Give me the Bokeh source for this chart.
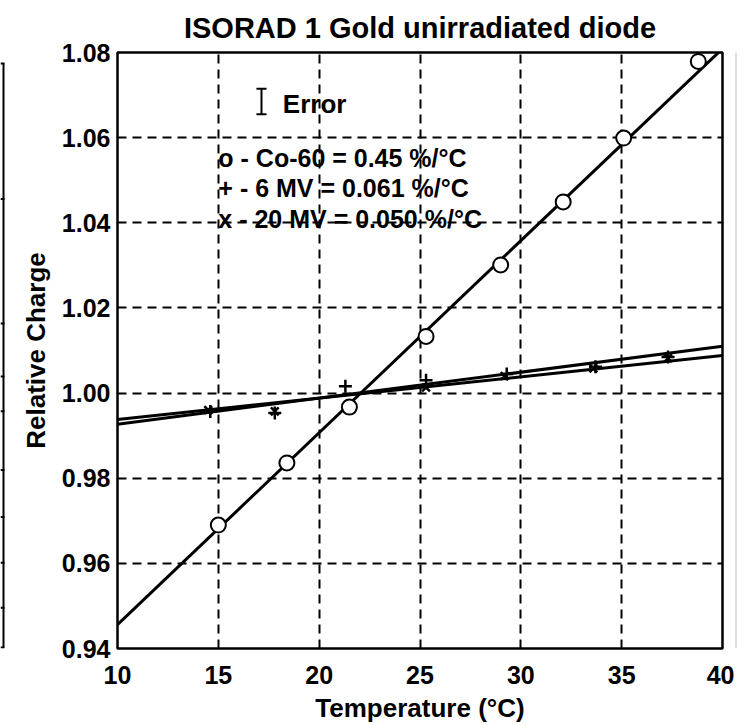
from bokeh.plotting import figure
from bokeh.layouts import row
from bokeh.models import FixedTicker, PrintfTickFormatter
from bokeh.core.properties import value
from bokeh.embed import file_html
from bokeh.resources import INLINE

# ---------------- data ----------------
temp_co60 = [15.0, 18.4, 21.5, 25.3, 29.0, 32.1, 35.1, 38.8]
charge_co60 = [0.9690, 0.9836, 0.9967, 1.0133, 1.0301, 1.0449, 1.0599, 1.0779]

temp_6mv = [14.6, 17.8, 21.3, 25.3, 29.3, 33.7, 37.3]
charge_6mv = [0.9957, 0.9953, 1.0016, 1.0030, 1.0045, 1.0062, 1.0085]

temp_20mv = [14.5, 17.8, 25.3, 29.2, 33.6, 37.3]
charge_20mv = [0.9960, 0.9957, 1.0013, 1.0040, 1.0058, 1.0082]

fit_temp = [10, 40]
fit_co60 = [0.9456, 1.0809]
fit_6mv = [0.9927, 1.0110]
fit_20mv = [0.9938, 1.0088]

x_ticks = [10, 15, 20, 25, 30, 35, 40]
y_ticks = [0.94, 0.96, 0.98, 1.00, 1.02, 1.04, 1.06, 1.08]

legend_lines = ["o - Co-60 = 0.45 %/°C", "+ - 6 MV = 0.061 %/°C", "x - 20 MV = 0.050 %/°C"]
legend_y = [1.0552, 1.0482, 1.0409]
legend_x = [15.0, 15.0, 15.0]

FONT = "Liberation Sans"
TOP, BOTTOM = 51, 76

# ---------------- main figure ----------------
p = figure(width=726, height=725, output_backend="svg", toolbar_location=None,
           x_range=(10, 40), y_range=(0.94, 1.08),
           min_border_left=109, min_border_right=12, min_border_top=TOP, min_border_bottom=BOTTOM,
           title="ISORAD 1 Gold unirradiated diode")
p.background_fill_color = "white"
p.border_fill_color = "white"
p.outline_line_color = "black"
p.outline_line_width = 2.5

p.title.align = "center"
p.title.text_font = FONT
p.title.text_font_size = "29px"
p.title.text_font_style = "bold"
p.title.text_color = "black"
p.title.standoff = 18

p.xaxis.ticker = FixedTicker(ticks=x_ticks)
p.yaxis.ticker = FixedTicker(ticks=y_ticks)
p.yaxis.formatter = PrintfTickFormatter(format="%.2f")
p.xaxis.axis_label = "Temperature (°C)"
p.yaxis.axis_label = "Relative Charge"
for ax in (p.xaxis, p.yaxis):
    ax.axis_line_color = None
    ax.major_tick_line_color = None
    ax.minor_tick_line_color = None
    ax.major_tick_out = 0
    ax.major_tick_in = 0
    ax.major_label_text_font = FONT
    ax.major_label_text_font_size = "25px"
    ax.major_label_text_font_style = "bold"
    ax.major_label_text_color = "black"
    ax.axis_label_text_font = FONT
    ax.axis_label_text_font_size = "26px"
    ax.axis_label_text_font_style = "bold"
    ax.axis_label_text_color = "black"
p.xaxis.major_label_standoff = 17
p.xaxis.axis_label_standoff = 6
p.yaxis.major_label_standoff = 7
p.yaxis.axis_label_standoff = 8

p.xgrid.ticker = FixedTicker(ticks=x_ticks)
p.ygrid.ticker = FixedTicker(ticks=y_ticks)
for g in (p.xgrid, p.ygrid):
    g.grid_line_color = "black"
    g.grid_line_width = 2
    g.grid_line_dash = "9 6"
    g.grid_line_alpha = 1.0

# fit lines
p.line(fit_temp, fit_co60, line_color="black", line_width=3)
p.line(fit_temp, fit_6mv, line_color="black", line_width=3)
p.line(fit_temp, fit_20mv, line_color="black", line_width=3)

# markers
p.scatter(temp_co60, charge_co60, marker="circle", size=15, fill_color="white",
          line_color="black", line_width=2)
p.scatter(temp_6mv, charge_6mv, marker="cross", size=13, line_color="black", line_width=2.5)
p.scatter(temp_20mv, charge_20mv, marker="x", size=11, line_color="black", line_width=2.5)

# legend texts
p.text(x=legend_x, y=legend_y, text=legend_lines, text_font=value(FONT),
       text_font_size="25px", text_font_style="bold", text_color="black",
       text_align="left", text_baseline="middle")

# error bar symbol
err_x = 17.14
err_lo, err_hi = 1.0655, 1.0715
p.segment(x0=[err_x, err_x - 0.25, err_x - 0.25], y0=[err_lo, err_lo, err_hi],
          x1=[err_x, err_x + 0.25, err_x + 0.25], y1=[err_hi, err_lo, err_hi],
          line_color="black", line_width=2)
p.text(x=[18.2], y=[1.0678], text=["Error"], text_font=value(FONT),
       text_font_size="26px", text_font_style="bold", text_color="black",
       text_align="left", text_baseline="middle")

# ---------------- left strip (fragment of neighbouring table) ----------------
strip_rows = [62, 198, 323, 376, 411, 470, 517, 563, 608, 648]
left = figure(width=8, height=725, output_backend="svg", toolbar_location=None,
              x_axis_type=None, y_axis_type=None,
              x_range=(0, 8), y_range=(725 - BOTTOM, TOP),
              min_border_left=0, min_border_right=0, min_border_top=TOP, min_border_bottom=BOTTOM)
left.outline_line_color = None
left.grid.visible = False
left.segment(x0=[3], y0=[strip_rows[0]], x1=[3], y1=[strip_rows[-1]], line_color="black", line_width=2)
left.segment(x0=[0] * len(strip_rows), y0=strip_rows, x1=[4] * len(strip_rows), y1=strip_rows,
             line_color="black", line_width=2)

# ---------------- right strip (faint scan edge) ----------------
right = figure(width=10, height=725, output_backend="svg", toolbar_location=None,
               x_axis_type=None, y_axis_type=None,
               x_range=(0, 10), y_range=(725 - BOTTOM, TOP),
               min_border_left=0, min_border_right=0, min_border_top=TOP, min_border_bottom=BOTTOM)
right.outline_line_color = None
right.grid.visible = False
right.segment(x0=[1.5], y0=[TOP], x1=[1.5], y1=[725 - BOTTOM], line_color="#dddddd", line_width=2)

layout = row(left, p, right, spacing=0)
open("out.html", "w").write(file_html(layout, INLINE))
